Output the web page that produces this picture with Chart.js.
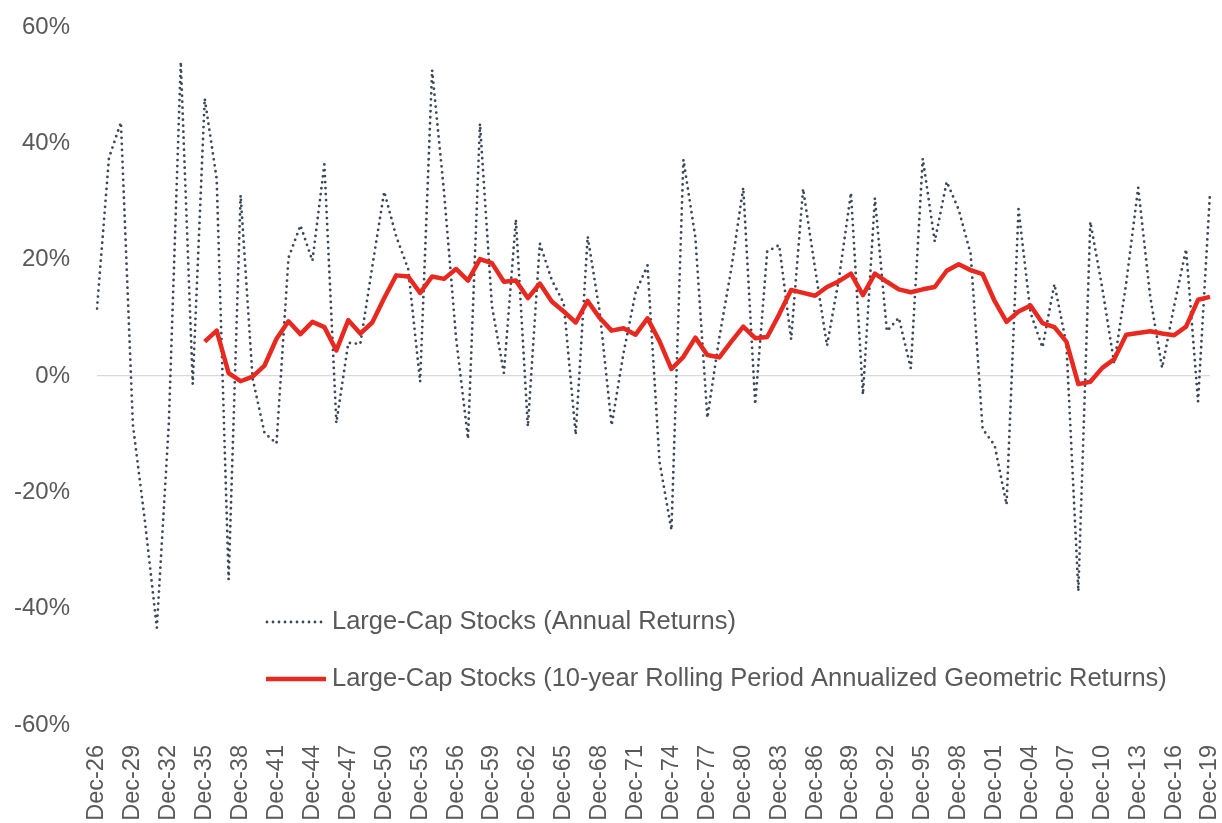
<!DOCTYPE html>
<html lang="en">
<head>
  <meta charset="UTF-8">
  <title>Large-Cap Stocks Returns</title>
  <style>
    body {
      margin: 0;
      background-color: #ffffff;
    }
    .chart-container {
      position: relative;
      width: 1222px;
      height: 823px;
    }
  </style>
</head>
<body>
  <div class="chart-container">
    <canvas id="returnsChart" width="1222" height="823"></canvas>
  </div>

  <script src="https://cdn.jsdelivr.net/npm/chart.js"></script>
  <script>
    // Years Dec-26 ... Dec-19
    const years = [
      'Dec-26','Dec-27','Dec-28','Dec-29','Dec-30','Dec-31','Dec-32','Dec-33','Dec-34','Dec-35',
      'Dec-36','Dec-37','Dec-38','Dec-39','Dec-40','Dec-41','Dec-42','Dec-43','Dec-44','Dec-45',
      'Dec-46','Dec-47','Dec-48','Dec-49','Dec-50','Dec-51','Dec-52','Dec-53','Dec-54','Dec-55',
      'Dec-56','Dec-57','Dec-58','Dec-59','Dec-60','Dec-61','Dec-62','Dec-63','Dec-64','Dec-65',
      'Dec-66','Dec-67','Dec-68','Dec-69','Dec-70','Dec-71','Dec-72','Dec-73','Dec-74','Dec-75',
      'Dec-76','Dec-77','Dec-78','Dec-79','Dec-80','Dec-81','Dec-82','Dec-83','Dec-84','Dec-85',
      'Dec-86','Dec-87','Dec-88','Dec-89','Dec-90','Dec-91','Dec-92','Dec-93','Dec-94','Dec-95',
      'Dec-96','Dec-97','Dec-98','Dec-99','Dec-00','Dec-01','Dec-02','Dec-03','Dec-04','Dec-05',
      'Dec-06','Dec-07','Dec-08','Dec-09','Dec-10','Dec-11','Dec-12','Dec-13','Dec-14','Dec-15',
      'Dec-16','Dec-17','Dec-18','Dec-19'
    ];

    // Annual returns (%)
    const annualReturns = [
      11.6, 37.5, 43.6, -8.4, -24.9, -43.3, -8.2, 54.0, -1.4, 47.7,
      33.9, -35.0, 31.1, -0.4, -9.8, -11.6, 20.3, 25.9, 19.8, 36.4,
      -8.1, 5.7, 5.5, 18.8, 31.7, 24.0, 18.4, -1.0, 52.6, 31.6,
      6.6, -10.8, 43.4, 12.0, 0.5, 26.9, -8.7, 22.8, 16.5, 12.5,
      -10.1, 24.0, 11.1, -8.5, 4.0, 14.3, 19.0, -14.7, -26.5, 37.2,
      23.8, -7.2, 6.6, 18.4, 32.4, -4.9, 21.4, 22.5, 6.3, 32.2,
      18.5, 5.2, 16.8, 31.5, -3.2, 30.6, 7.7, 10.0, 1.3, 37.4,
      23.1, 33.4, 28.6, 21.0, -9.1, -11.9, -22.1, 28.7, 10.9, 4.9,
      15.8, 5.5, -37.0, 26.5, 15.1, 2.1, 16.0, 32.4, 13.7, 1.4,
      12.0, 21.8, -4.4, 31.5
    ];

    // 10-year rolling annualized geometric returns (%)
    const rollingReturns = [
      null, null, null, null, null, null, null, null, null, 5.9,
      7.8, 0.5, -0.9, -0.1, 1.8, 6.4, 9.4, 7.2, 9.3, 8.4,
      4.4, 9.6, 7.3, 9.2, 13.4, 17.3, 17.1, 14.3, 17.1, 16.7,
      18.4, 16.4, 20.1, 19.4, 16.2, 16.4, 13.4, 15.9, 12.8, 11.1,
      9.2, 12.9, 10.0, 7.8, 8.2, 7.1, 9.9, 6.0, 1.2, 3.3,
      6.6, 3.6, 3.2, 5.9, 8.5, 6.5, 6.7, 10.6, 14.8, 14.3,
      13.8, 15.3, 16.3, 17.6, 13.9, 17.6, 16.2, 14.9, 14.4, 14.9,
      15.3, 18.1, 19.2, 18.2, 17.5, 12.9, 9.3, 11.1, 12.1, 9.1,
      8.4, 5.9, -1.4, -1.0, 1.4, 2.9, 7.1, 7.4, 7.7, 7.3,
      7.0, 8.5, 13.1, 13.6
    ];

    const yTicks = [-60, -40, -20, 0, 20, 40, 60];

    const textColor = '#595959';
    const fontFamily = '"Liberation Sans", Arial, sans-serif';

    // Legend drawn inside the plot area
    const insideLegend = {
      id: 'insideLegend',
      afterDraw(chart) {
        const ctx = chart.ctx;
        const rows = [
          { ds: chart.data.datasets[0], y: 622, x0: 267, x1: 322 },
          { ds: chart.data.datasets[1], y: 679, x0: 266, x1: 326 }
        ];
        ctx.save();
        rows.forEach(function(r) {
          ctx.beginPath();
          ctx.strokeStyle = r.ds.borderColor;
          ctx.lineWidth = r.ds.borderWidth;
          ctx.lineCap = r.ds.borderCapStyle || 'butt';
          ctx.setLineDash(r.ds.borderDash || []);
          ctx.moveTo(r.x0, r.y);
          ctx.lineTo(r.x1, r.y);
          ctx.stroke();
          ctx.setLineDash([]);
          ctx.fillStyle = textColor;
          ctx.font = '25.5px ' + fontFamily;
          ctx.textBaseline = 'middle';
          ctx.textAlign = 'left';
          ctx.fillText(r.ds.label, 332, r.y);
        });
        ctx.restore();
      }
    };

    const ctx = document.getElementById('returnsChart').getContext('2d');
    const returnsChart = new Chart(ctx, {
      type: 'line',
      data: {
        labels: years,
        datasets: [{
          label: 'Large-Cap Stocks (Annual Returns)',
          data: annualReturns,
          borderColor: '#3a4859',
          borderWidth: 2.8,
          borderDash: [0, 6],
          borderCapStyle: 'round',
          pointRadius: 0,
          tension: 0,
          fill: false,
          order: 2
        }, {
          label: 'Large-Cap Stocks (10-year Rolling Period Annualized Geometric Returns)',
          data: rollingReturns,
          borderColor: '#e8291f',
          borderWidth: 4.5,
          borderJoinStyle: 'round',
          pointRadius: 0,
          tension: 0,
          fill: false,
          order: 1
        }]
      },
      options: {
        responsive: false,
        animation: false,
        layout: {
          padding: { top: 27, right: 12, left: 0, bottom: 0 }
        },
        plugins: {
          legend: { display: false },
          tooltip: { enabled: false }
        },
        scales: {
          x: {
            grid: { display: false },
            border: { display: false },
            ticks: {
              autoSkip: false,
              minRotation: 90,
              maxRotation: 90,
              padding: 12,
              color: textColor,
              font: { family: fontFamily, size: 23.5 },
              callback: function(value, index) {
                return index % 3 === 0 ? years[index] : '';
              }
            },
            afterFit: function(scale) {
              scale.height = 98;
              scale.paddingLeft = 0;
              scale.paddingRight = 0;
            }
          },
          y: {
            min: -60,
            max: 60,
            afterBuildTicks: function(scale) {
              scale.ticks = yTicks.map(function(v) { return { value: v }; });
            },
            grid: {
              drawTicks: false,
              color: function(c) { return c.tick.value === 0 ? '#d9d9d9' : 'rgba(0,0,0,0)'; },
              lineWidth: 1.2
            },
            border: { display: false },
            ticks: {
              padding: 27,
              color: textColor,
              font: { family: fontFamily, size: 24 },
              callback: function(value) { return value + '%'; }
            },
            afterFit: function(scale) {
              scale.width = 97;
              scale.paddingTop = 0;
              scale.paddingBottom = 0;
            }
          }
        }
      },
      plugins: [insideLegend]
    });
  </script>
</body>
</html>
